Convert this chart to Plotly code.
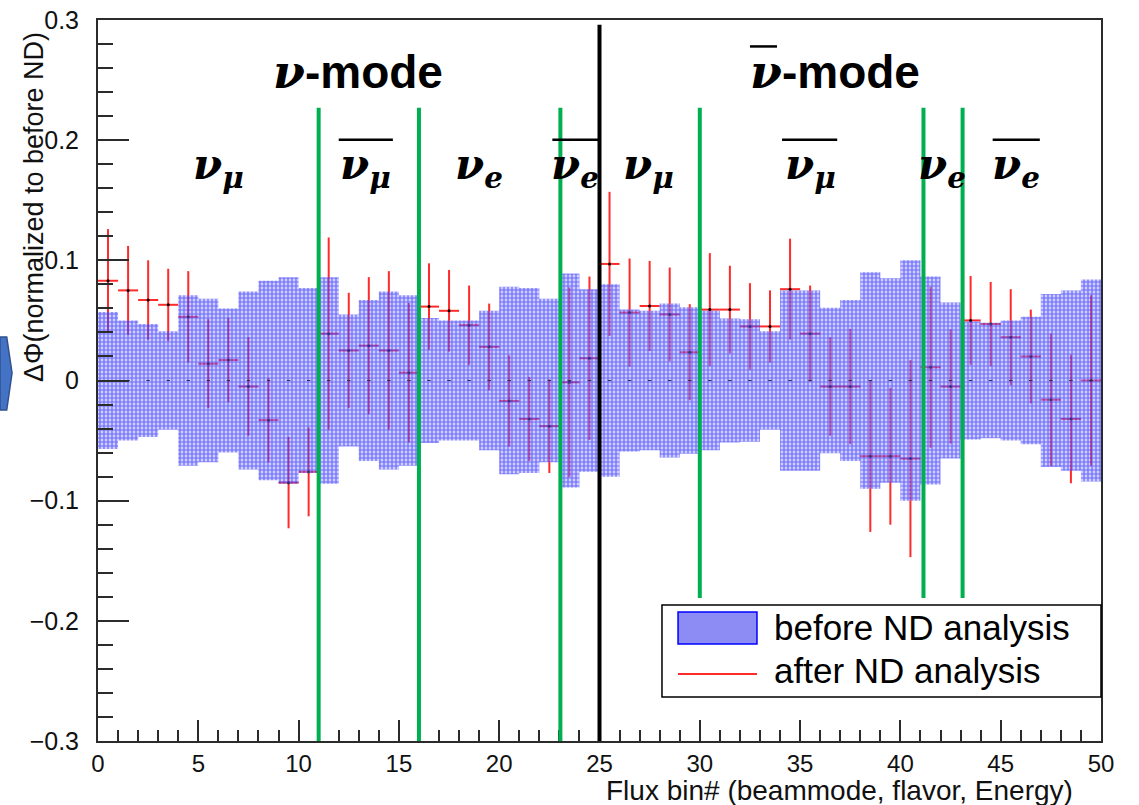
import plotly.graph_objects as go

# ---------------- data ----------------
n_bins = 50
bin_index = list(range(n_bins))
before_center = [0.0] * n_bins
before_err = [0.057, 0.050, 0.047, 0.041, 0.071, 0.068, 0.060, 0.074, 0.083, 0.086,
              0.077, 0.086, 0.055, 0.067, 0.074, 0.071, 0.052, 0.050, 0.050, 0.058,
              0.078, 0.077, 0.068, 0.089, 0.076, 0.080, 0.059, 0.058, 0.064, 0.061,
              0.058, 0.0515, 0.051, 0.041, 0.075, 0.075, 0.0605, 0.067, 0.090, 0.085,
              0.100, 0.0865, 0.065, 0.049, 0.048, 0.050, 0.053, 0.072, 0.075, 0.084]
after_val = [0.083, 0.075, 0.067, 0.063, 0.053, 0.014, 0.017, -0.005, -0.033, -0.085,
             -0.076, 0.039, 0.025, 0.029, 0.025, 0.0065, 0.0615, 0.058, 0.046, 0.028,
             -0.017, -0.032, -0.038, -0.0015, 0.0185, 0.097, 0.0565, 0.062, 0.055, 0.0235,
             0.059, 0.059, 0.045, 0.045, 0.076, 0.039, -0.005, -0.005, -0.063, -0.063,
             -0.065, 0.011, -0.005, 0.050, 0.047, 0.036, 0.020, -0.016, -0.032, 0.000]
after_err = [0.043, 0.037, 0.033, 0.030, 0.038, 0.037, 0.035, 0.041, 0.035, 0.038,
             0.037, 0.080, 0.048, 0.057, 0.066, 0.058, 0.036, 0.034, 0.033, 0.036,
             0.038, 0.035, 0.039, 0.079, 0.068, 0.060, 0.045, 0.0375, 0.039, 0.040,
             0.047, 0.0365, 0.036, 0.030, 0.042, 0.040, 0.041, 0.048, 0.063, 0.057,
             0.082, 0.067, 0.0475, 0.037, 0.035, 0.040, 0.039, 0.055, 0.0535, 0.071]

x_ticks = [0, 5, 10, 15, 20, 25, 30, 35, 40, 45, 50]
y_ticks = [-0.3, -0.2, -0.1, 0.0, 0.1, 0.2, 0.3]
y_ticktext = ["\u22120.3", "\u22120.2", "\u22120.1", "0", "0.1", "0.2", "0.3"]

mode_divider = 25
flavor_dividers = [11, 16, 23.05, 30, 41.15, 43.1]
flavor_divider_bottom = [-0.3, -0.3, -0.3, -0.181, -0.181, -0.181]

mode_labels = [("\u03bd-mode", 12.95, False), ("\u03bd-mode", 36.75, True)]
flavor_labels = [("\u03bd", "\u03bc", 6.0, False), ("\u03bd", "\u03bc", 13.35, True),
                 ("\u03bd", "e", 19.0, False), ("\u03bd", "e", 23.8, True),
                 ("\u03bd", "\u03bc", 27.45, False), ("\u03bd", "\u03bc", 35.5, True),
                 ("\u03bd", "e", 42.05, False), ("\u03bd", "e", 45.75, True)]
flavor_bar_spans = [(12.0, 14.7), (22.65, 24.95), (34.1, 36.85), (44.6, 46.95)]

# ---------------- figure ----------------
centers = [i + 0.5 for i in bin_index]
edges = list(range(n_bins + 1))
upper = before_err + [before_err[-1]]
lower = [-e for e in before_err] + [-before_err[-1]]

RED = "#ff2a2a"
fig = go.Figure()

# after ND analysis (drawn first so the hatched band sits on top)
fig.add_trace(go.Scatter(
    x=centers, y=after_val, mode="markers",
    marker=dict(size=3, color="black"),
    error_x=dict(type="constant", value=0.5, color=RED, thickness=2, width=0),
    error_y=dict(type="data", array=after_err, color=RED, thickness=2, width=0),
    showlegend=False, hoverinfo="skip"))

# before ND analysis band
fig.add_trace(go.Scatter(x=edges, y=lower, mode="lines", line=dict(width=0, shape="hv"),
                         showlegend=False, hoverinfo="skip"))
fig.add_trace(go.Scatter(x=edges, y=upper, mode="lines", line=dict(width=0, shape="hv"),
                         fill="tonexty", fillcolor="rgba(0,0,0,0)",
                         fillpattern=dict(shape=".", fgcolor="#1010ff",
                                          bgcolor="rgba(200,200,255,0.35)",
                                          size=4, solidity=0.7),
                         showlegend=False, hoverinfo="skip"))
fig.add_trace(go.Scatter(x=centers, y=before_center, mode="markers",
                         marker=dict(symbol="line-ew", size=2.5,
                                     line=dict(width=1, color="#333")),
                         showlegend=False, hoverinfo="skip"))

shapes = []
shapes.append(dict(type="line", xref="x", yref="y", x0=mode_divider, x1=mode_divider,
                   y0=-0.3, y1=0.296, line=dict(color="black", width=4), layer="above"))
for xv, yb in zip(flavor_dividers, flavor_divider_bottom):
    shapes.append(dict(type="line", xref="x", yref="y", x0=xv, x1=xv, y0=yb, y1=0.227,
                       line=dict(color="#00b050", width=4), layer="above"))
for a, b in flavor_bar_spans:
    shapes.append(dict(type="line", xref="x", yref="y", x0=a, x1=b, y0=0.2004, y1=0.2004,
                       line=dict(color="black", width=2.5), layer="above"))
shapes.append(dict(type="line", xref="x", yref="y", x0=32.5, x1=33.85, y0=0.278, y1=0.278,
                   line=dict(color="black", width=2.5), layer="above"))

# legend box
shapes.append(dict(type="rect", xref="paper", yref="paper", x0=0.5623, x1=1.0,
                   y0=0.061, y1=0.1886, fillcolor="white",
                   line=dict(color="black", width=1.5), layer="above"))
shapes.append(dict(type="rect", xref="paper", yref="paper", x0=0.5783, x1=0.6570,
                   y0=0.1345, y1=0.1789, fillcolor="#8c8cf4",
                   line=dict(color="#0000ff", width=1.5), layer="above"))
shapes.append(dict(type="line", xref="paper", yref="paper", x0=0.5783, x1=0.6570,
                   y0=0.0929, y1=0.0929, line=dict(color=RED, width=2), layer="above"))
# slide artefact at left edge
shapes.append(dict(type="path", xref="paper", yref="paper",
                   path="M -0.0977,0.5603 L -0.091,0.5603 L -0.0857,0.5104 L -0.091,0.4591 L -0.0977,0.4591 Z",
                   fillcolor="#4472c4", line=dict(color="#2f528f", width=1.5), layer="above"))

annotations = []
SERIF = "DejaVu Serif"
for txt, xc, bar in mode_labels:
    nu, rest = txt.split("-")
    annotations.append(dict(
        x=xc, y=0.257, xref="x", yref="y", showarrow=False,
        text=f'<span style="font-family:{SERIF}"><b><i>{nu}</i></b></span><b>-{rest}</b>',
        font=dict(family="Liberation Sans", size=46, color="black")))
for nu, sub, xc, bar in flavor_labels:
    annotations.append(dict(
        x=xc, y=0.177, xref="x", yref="y", showarrow=False,
        text=f"<b><i>{nu}<sub>{sub}</sub></i></b>",
        font=dict(family=SERIF, size=42, color="black")))

annotations.append(dict(x=0.974, y=-0.068, xref="paper", yref="paper", showarrow=False,
                        xanchor="right", yanchor="middle",
                        text="Flux bin# (beammode, flavor, Energy)",
                        font=dict(family="Liberation Sans", size=28, color="#111")))
annotations.append(dict(x=-0.0638, y=0.986, xref="paper", yref="paper", showarrow=False,
                        xanchor="center", yanchor="top", textangle=-90,
                        text="\u0394\u03a6(normalized to before ND)",
                        font=dict(family="Liberation Sans", size=27, color="#111")))
annotations.append(dict(x=0.672, y=0.158, xref="paper", yref="paper", showarrow=False,
                        xanchor="left", yanchor="middle", text="before ND analysis",
                        font=dict(family="Liberation Sans", size=35, color="black")))
annotations.append(dict(x=0.672, y=0.0971, xref="paper", yref="paper", showarrow=False,
                        xanchor="left", yanchor="middle", text="after ND analysis",
                        font=dict(family="Liberation Sans", size=35, color="black")))

AX = "#2b2b2b"
fig.update_layout(
    width=1139, height=805,
    margin=dict(l=98, r=38, t=20, b=64, autoexpand=False),
    paper_bgcolor="white", plot_bgcolor="white",
    showlegend=False,
    shapes=shapes, annotations=annotations,
    xaxis=dict(range=[0, 50], tickvals=x_ticks, ticks="inside", ticklen=21, tickwidth=1.5,
               tickcolor=AX, showgrid=False, zeroline=False, showline=True, linecolor=AX,
               linewidth=2, mirror=True, ticklabelstandoff=0, ticklabeloverflow="allow",
               automargin=False,
               tickfont=dict(family="Liberation Sans", size=24, color="#111"),
               minor=dict(dtick=1, ticks="inside", ticklen=11, tickwidth=1.5, tickcolor=AX,
                          showgrid=False)),
    yaxis=dict(range=[-0.3, 0.3], tickvals=y_ticks, ticktext=y_ticktext, ticks="inside",
               ticklen=31, tickwidth=1.5, tickcolor=AX, showgrid=False, zeroline=False,
               showline=True, linecolor=AX, linewidth=2, mirror=True, ticklabelstandoff=12,
               ticklabeloverflow="allow", automargin=False,
               tickfont=dict(family="Liberation Sans", size=25, color="#111"),
               minor=dict(dtick=0.02, ticks="inside", ticklen=15, tickwidth=1.5,
                          tickcolor=AX, showgrid=False)),
)

fig.write_html("out.html", config={"displayModeBar": False},
               post_script="document.body.style.margin='0';document.body.style.overflow='hidden';")
